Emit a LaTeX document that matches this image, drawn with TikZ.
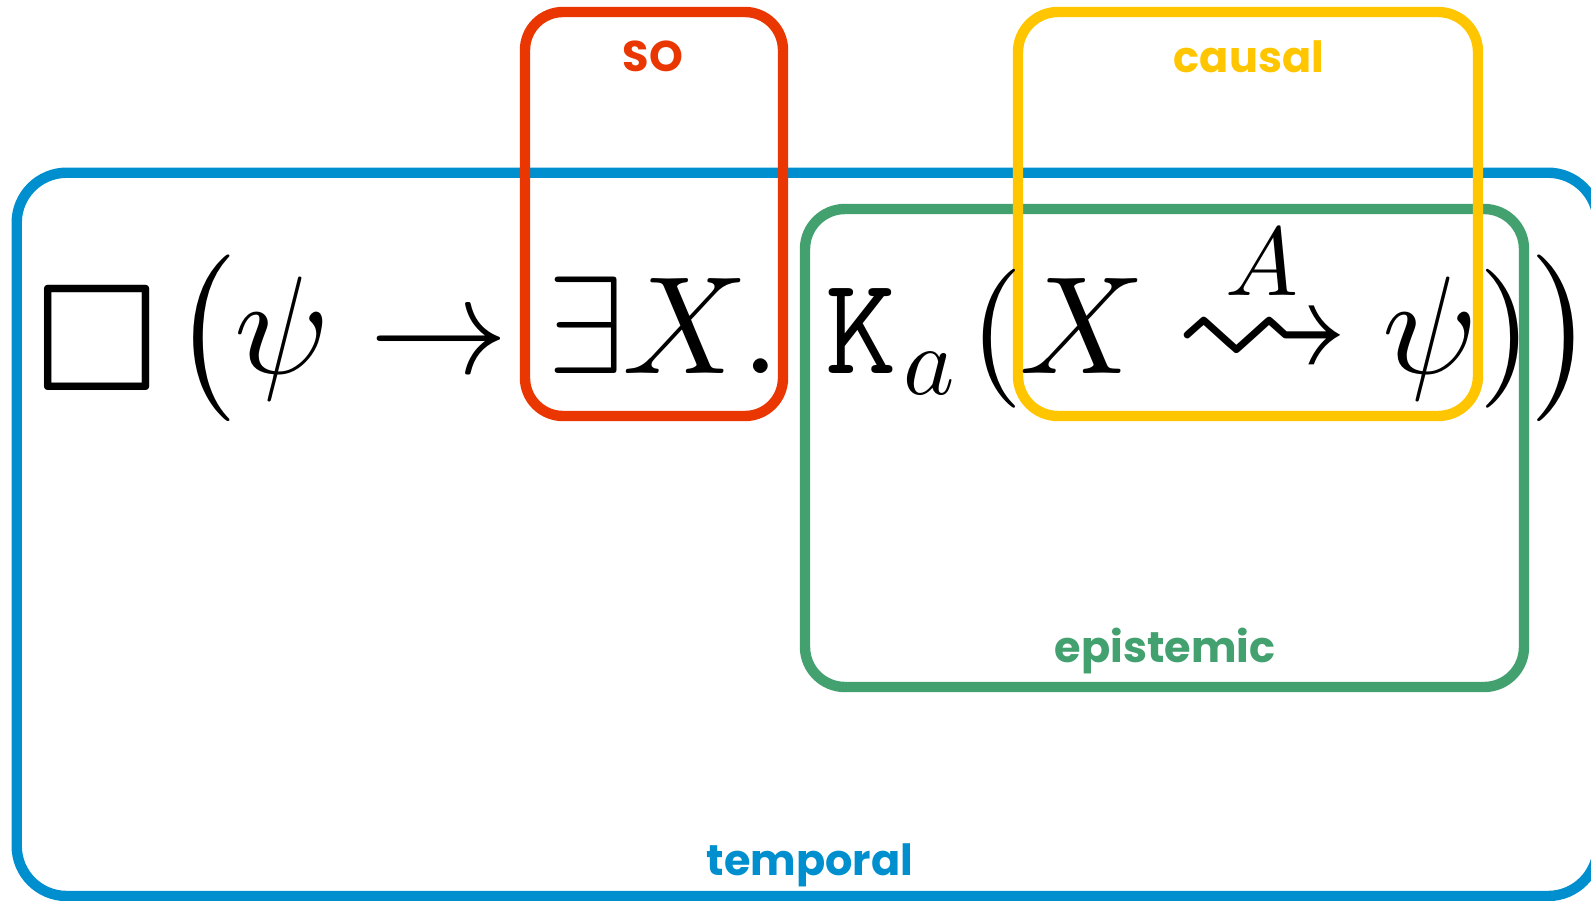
\documentclass[tikz,border=0pt]{standalone}
\DeclareFontFamily{U}{lasy}{}
\DeclareFontShape{U}{lasy}{m}{n}{<->lasy10}{}
\usepackage{amsmath,amssymb,latexsym,graphicx}
\usepackage{fontspec}
% math fonts at any size
\DeclareFontShape{OT1}{cmr}{m}{n}{<->cmr10}{}
\DeclareFontShape{OML}{cmm}{m}{it}{<->cmmi10}{}
\DeclareFontShape{OMS}{cmsy}{m}{n}{<->cmsy10}{}
\DeclareFontShape{OMX}{cmex}{m}{n}{<->cmex10}{}
\newfontfamily\lblfont{Poppins}
\usetikzlibrary{fit}

\definecolor{tempblue}{RGB}{0,143,206}
\definecolor{sored}{RGB}{234,55,1}
\definecolor{causalyellow}{RGB}{255,198,0}
\definecolor{epigreen}{RGB}{67,161,112}

\tikzset{
  % rounded frame round a part of the formula
  region/.style={draw, line width=5.2pt, rounded corners=#1, inner sep=0pt},
  % name of a frame
  boxlabel/.style={anchor=base, inner sep=0pt,
    font=\lblfont\bfseries\fontsize{21.5pt}{26pt}\selectfont},
  % one piece of the formula
  glyph/.style={anchor=base, inner sep=0pt,
    font=\fontsize{69.5pt}{83.4pt}\selectfont},
}

\begin{document}
\begin{tikzpicture}[x=0.5pt,y=-0.5pt]
\useasboundingbox (0,0) rectangle (1591,900);

% frames
\node[region=25pt, draw=tempblue, fit={(16.7,172.7) (1598,896)}] (temporal) {};
\node[region=20pt, draw=epigreen, fit={(805,209) (1524,687)}] (epistemic) {};
\node[region=19pt, draw=sored, fit={(525,12) (783,416)}] (so) {};
\node[region=20pt, draw=causalyellow, fit={(1018,12) (1478,416)}] (causal) {};

% names of the frames
\node[boxlabel, text=sored] (solbl) at (653,71) {SO};
\node[boxlabel, text=causalyellow] (causallbl) at (1249,72) {causal};
\node[boxlabel, text=epigreen] (epilbl) at (1165,662) {epistemic};
\node[boxlabel, text=tempblue] (templbl) at (810,875) {temporal};

% the formula
\node[glyph] (always) at (96.7,401) {\scalebox{1.34}{$\Box$}};
\node[glyph] (lpar) at (204,373) {$\bigl($};
\node[glyph] (psi) at (282,373) {$\psi$};
\node[glyph] (impl) at (438.5,373) {$\to$};
\node[glyph] (exists) at (586,373) {$\exists$};
\node[glyph] (var) at (686,373) {$X$};
\node[glyph] (dot) at (760.5,373) {$.$};
\node[glyph] (know) at (861.5,373) {$\mathtt{K}$};
\node[glyph] (agent) at (929,394) {$\scriptstyle a$};
\node[glyph] (lparb) at (997,373) {$($};
\node[glyph] (varb) at (1083,373) {$X$};
\node[glyph] (cause) at (1263,379) {\scalebox{1.27}{$\rightsquigarrow$}};
\node[glyph] (agents) at (1262,295) {$\scriptstyle A$};
\node[glyph] (psib) at (1430,373) {$\psi$};
\node[glyph] (rparb) at (1506,373) {$)$};
\node[glyph] (rpar) at (1563.5,373) {\nulldelimiterspace=0pt$\bigr)$};
\end{tikzpicture}
\end{document}
